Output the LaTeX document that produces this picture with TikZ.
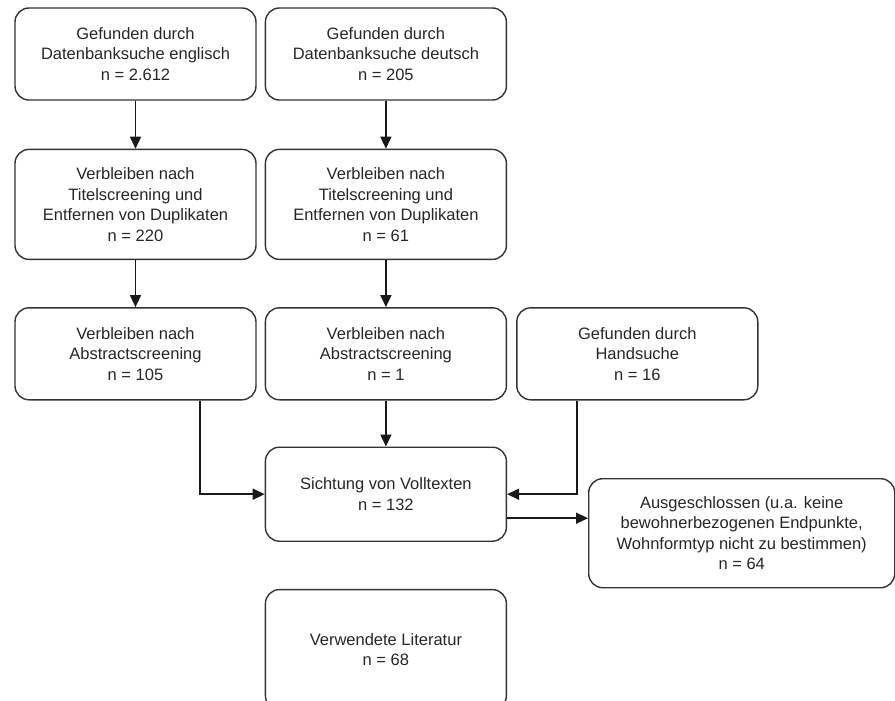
\documentclass[tikz,border=0pt]{standalone}
\usepackage{fontspec}
\setmainfont{Liberation Sans}
\usetikzlibrary{arrows.meta,positioning}

\begin{document}
\begin{tikzpicture}[x=1pt,y=-1pt,>={Triangle[length=12pt,width=11pt]},
  stage/.style={draw=black!80,line width=1.4pt,rounded corners=14pt,minimum width=241pt,
    align=center,inner sep=2pt,text=black!85,font=\fontsize{16.5}{20.5}\selectfont},
  flow/.style={->,line width=1.6pt,black!90}]
  \useasboundingbox (0,0) rectangle (895,701);
  \node[stage,minimum height=92pt] (engl) at (135.5,54) {Gefunden durch\\Datenbanksuche englisch\\n = 2.612};
  \node[stage,minimum height=92pt,right=8pt of engl] (deut) {Gefunden durch\\Datenbanksuche deutsch\\n = 205};
  \node[stage,minimum height=110pt,below=48pt of engl] (titelE) {Verbleiben nach\\Titelscreening und\\Entfernen von Duplikaten\\n = 220};
  \node[stage,minimum height=110pt,below=48pt of deut] (titelD) {Verbleiben nach\\Titelscreening und\\Entfernen von Duplikaten\\n = 61};
  \node[stage,minimum height=92pt,below=47pt of titelE] (abstrE) {Verbleiben nach\\Abstractscreening\\n = 105};
  \node[stage,minimum height=92pt,below=47pt of titelD] (abstrD) {Verbleiben nach\\Abstractscreening\\n = 1};
  \node[stage,minimum height=92pt,right=9pt of abstrD] (hand) {Gefunden durch\\Handsuche\\n = 16};
  \node[stage,minimum height=94pt,below=46pt of abstrD] (sicht) {Sichtung von Volltexten\\n = 132};
  \node[stage,minimum width=306pt,minimum height=109pt,anchor=north west] (aus) at (588,478)
    {Ausgeschlossen (u.a. keine\\bewohnerbezogenen Endpunkte,\\Wohnformtyp nicht zu bestimmen)\\n = 64};
  \node[stage,minimum height=120pt,below=47pt of sicht] (lit) {Verwendete Literatur\\n = 68};
  % Datenbanksuche
  \draw[flow] (engl) -- (titelE);
  \draw[flow] (deut) -- (titelD);
  \draw[flow] (titelE) -- (abstrE);
  \draw[flow] (titelD) -- (abstrD);
  % Volltexte
  \draw[flow] ([xshift=64.5pt]abstrE.south) |- (sicht.west);
  \draw[flow] (abstrD) -- (sicht);
  \draw[flow] ([xshift=-60.5pt]hand.south) |- (sicht.east);
  \draw[flow] ([yshift=-24pt]sicht.east) -- ([yshift=-24pt]sicht.east -| aus.west);
\end{tikzpicture}
\end{document}
